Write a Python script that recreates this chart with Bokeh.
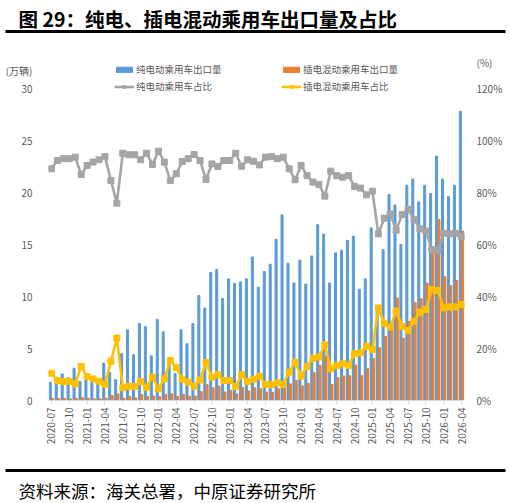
import math
from bokeh.plotting import figure
from bokeh.layouts import column
from bokeh.models import (ColumnDataSource, Range1d, LinearAxis, FixedTicker, Label,
                          BoxAnnotation, Legend, LegendItem)
from bokeh.embed import file_html
from bokeh.resources import INLINE

# ---------------- data ----------------
tick_labels = ["2020-07", "2020-10", "2021-01", "2021-04", "2021-07", "2021-10",
               "2022-01", "2022-04", "2022-07", "2022-10", "2023-01", "2023-04",
               "2023-07", "2023-10", "2024-01", "2024-04", "2024-07", "2024-10",
               "2025-01", "2025-04", "2025-07", "2025-10", "2026-01", "2026-04"]

bev_export = [1.76, 2.24, 2.56, 2.18, 3.1, 1.83, 2.1, 1.9, 2.0, 3.6, 2.7, 2.0,
              4.5, 6.8, 4.4, 7.4, 7.1, 4.3, 7.8, 6.6, 3.6, 2.6, 6.8, 5.45,
              7.4, 10.1, 8.9, 12.3, 12.6, 9.8, 11.7, 11.25, 11.4, 11.7, 13.8, 10.9,
              12.4, 13.1, 15.5, 17.85, 13.2, 11.3, 13.5, 11.2, 13.9, 16.9, 16.0, 11.3,
              14.2, 14.45, 15.4, 15.8, 10.7, 11.7, 16.6, 9.0, 14.5, 19.8, 18.8, 15.0,
              20.7, 21.3, 19.1, 20.7, 19.9, 23.5, 21.3, 19.6, 20.7, 27.8]

phev_export = [0.21, 0.19, 0.2, 0.16, 0.21, 0.28, 0.21, 0.17, 0.16, 0.24, 0.49, 0.63,
               0.23, 0.4, 0.25, 0.58, 0.38, 0.43, 0.37, 0.6, 0.65, 0.38, 0.61, 0.42,
               0.43, 0.86, 1.52, 1.22, 1.39, 0.82, 0.98, 0.64, 1.25, 0.92, 1.23, 1.13,
               0.82, 0.8, 1.13, 1.18, 1.61, 1.94, 1.4, 1.65, 2.67, 3.38, 4.3, 1.55,
               2.2, 2.36, 2.38, 3.42, 2.4, 3.06, 4.05, 5.07, 6.15, 7.3, 9.85, 6.0,
               7.6, 9.4, 9.8, 11.3, 14.8, 17.4, 11.9, 11.05, 11.55, 16.3]

bev_share = [89.1, 92.3, 93.0, 93.0, 93.6, 86.9, 90.4, 91.7, 92.6, 93.8, 84.6, 75.9,
             95.1, 94.5, 94.5, 92.6, 95.1, 90.8, 95.9, 91.7, 84.6, 87.2, 91.9, 93.0,
             94.6, 92.3, 85.0, 91.0, 90.0, 92.3, 92.3, 95.1, 90.1, 92.6, 92.0, 90.6,
             93.6, 93.8, 93.0, 93.6, 89.1, 84.9, 90.4, 86.5, 84.0, 83.1, 78.6, 88.2,
             86.5, 85.9, 86.5, 82.3, 81.7, 79.1, 80.5, 64.1, 70.1, 71.8, 65.5, 71.5,
             73.6, 69.7, 66.0, 65.2, 58.0, 57.7, 64.3, 64.1, 64.3, 63.0]

phev_share = [10.5, 7.7, 7.3, 7.3, 6.4, 13.1, 9.2, 8.3, 7.4, 6.2, 15.1, 24.0,
              4.9, 5.5, 5.4, 7.3, 5.1, 9.0, 4.5, 8.3, 15.4, 12.6, 8.2, 7.1,
              5.5, 7.9, 14.6, 9.0, 9.9, 7.7, 7.7, 5.4, 9.9, 7.3, 8.2, 9.3,
              6.2, 6.0, 6.8, 6.2, 10.9, 14.7, 9.4, 13.1, 16.2, 16.7, 21.4, 12.2,
              13.5, 14.1, 13.5, 18.0, 18.3, 20.9, 19.6, 35.6, 29.7, 28.2, 34.4, 28.5,
              26.9, 30.5, 34.0, 35.0, 42.6, 42.3, 35.6, 36.0, 36.0, 36.9]

left_ticks = [0, 5, 10, 15, 20, 25, 30]
right_ticks = [0, 20, 40, 60, 80, 100, 120]
left_unit = "(万辆)"
right_unit = "(%)"
title_text = "图 29：纯电、插电混动乘用车出口量及占比"
source_text = "资料来源：海关总署，中原证券研究所"

FONT = "Noto Sans CJK SC"
GREY_TXT = "#595959"
W = 510


def blank_fig(h):
    f = figure(width=W, height=h, output_backend="svg", toolbar_location=None,
               x_range=Range1d(0, W), y_range=Range1d(h, 0),
               x_axis_location=None, y_axis_location=None,
               min_border_left=0, min_border_right=0, min_border_top=0,
               min_border_bottom=0, frame_align=False)
    f.outline_line_color = None
    f.grid.visible = False
    return f


# ---------------- header ----------------
TOP_H = 40
top = blank_fig(TOP_H)
top.add_layout(Label(x=18, y=18, text=title_text, text_font=FONT, text_font_size="19.5px",
                     text_font_style="bold", text_color="black", text_baseline="middle"))
top.add_layout(BoxAnnotation(left=5, right=505, top=29.5, bottom=32.5,
                             fill_color="black", fill_alpha=1, line_color=None))

# ---------------- main chart ----------------
MAIN_H = 425          # page y 40 .. 465
FRAME_TOP, FRAME_BOT = 55, 400
FRAME_L, FRAME_R = 48, 464
PX_PER_UNIT = 10.4
Y_TOP = (FRAME_BOT - FRAME_TOP) / PX_PER_UNIT

n = len(bev_export)
idx = list(range(n))
src = ColumnDataSource(dict(
    xb=[i - 0.2 for i in idx], xo=[i + 0.2 for i in idx], x=idx,
    bev=bev_export, phev=phev_export, bs=bev_share, ps=phev_share))

p = figure(width=W, height=MAIN_H, output_backend="svg", toolbar_location=None,
           x_range=Range1d(-0.5, n - 0.5), y_range=Range1d(0, Y_TOP),
           min_border_left=FRAME_L, min_border_right=W - FRAME_R,
           min_border_top=FRAME_TOP - TOP_H, min_border_bottom=TOP_H + MAIN_H - FRAME_BOT,
           frame_align=False)
p.extra_y_ranges = {"pct": Range1d(0, Y_TOP * 4)}
p.outline_line_color = None
p.xgrid.visible = False
p.ygrid.visible = False

b1 = p.vbar(x="xb", top="bev", width=0.34, source=src, color="#5B9BD5")
b2 = p.vbar(x="xo", top="phev", width=0.34, source=src, color="#ED7D31")
l1 = p.line(x="x", y="bs", source=src, y_range_name="pct", color="#A5A5A5", line_width=2.6)
s1 = p.scatter(x="x", y="bs", source=src, y_range_name="pct", marker="square",
               size=6, color="#A5A5A5")
l2 = p.line(x="x", y="ps", source=src, y_range_name="pct", color="#FFC000", line_width=2.6)
s2 = p.scatter(x="x", y="ps", source=src, y_range_name="pct", marker="square",
               size=6, color="#FFC000")

xa = p.xaxis[0]
xa.ticker = FixedTicker(ticks=list(range(0, n, 3)))
xa.major_label_overrides = {i * 3: t for i, t in enumerate(tick_labels)}
xa.major_label_orientation = math.pi / 2
xa.major_label_text_font = FONT
xa.major_label_text_font_size = "10px"
xa.major_label_text_color = GREY_TXT
xa.axis_line_color = "#D9D9D9"
xa.major_tick_line_color = "#D9D9D9"
xa.major_tick_out = 4
xa.major_tick_in = 0
xa.minor_tick_line_color = None
xa.major_label_standoff = 3

# unit captions sit as extra labelled ticks above the top value
LEFT_UNIT_POS = 31.75
RIGHT_UNIT_POS = 130.0

ya = p.yaxis[0]
ya.ticker = FixedTicker(ticks=left_ticks + [LEFT_UNIT_POS])
ya.major_label_overrides = {LEFT_UNIT_POS: left_unit}
ya.axis_line_color = None
ya.major_tick_line_color = None
ya.minor_tick_line_color = None
ya.major_label_text_font = FONT
ya.major_label_text_font_size = "10px"
ya.major_label_text_color = GREY_TXT
ya.major_label_standoff = 10

ra = LinearAxis(y_range_name="pct", ticker=FixedTicker(ticks=right_ticks + [RIGHT_UNIT_POS]))
ra.major_label_overrides = {t: f"{t}%" for t in right_ticks}
ra.major_label_overrides[RIGHT_UNIT_POS] = right_unit
ra.axis_line_color = None
ra.major_tick_line_color = None
ra.minor_tick_line_color = None
ra.major_label_text_font = FONT
ra.major_label_text_font_size = "10px"
ra.major_label_text_color = GREY_TXT
ra.major_label_standoff = 6
p.add_layout(ra, "right")


def make_legend(items, px, py):
    lg = Legend(items=items, location=(px - FRAME_L, FRAME_BOT - py), orientation="vertical",
                border_line_color=None, background_fill_alpha=0, padding=0, margin=0,
                spacing=3, glyph_height=7, glyph_width=20, label_height=12,
                label_standoff=2, label_text_font=FONT, label_text_font_size="9.5px",
                label_text_color=GREY_TXT)
    p.add_layout(lg, "center")


make_legend([LegendItem(label="纯电动乘用车出口量", renderers=[b1]),
             LegendItem(label="纯电动乘用车占比", renderers=[l1, s1])], 114, 93)
make_legend([LegendItem(label="插电混动乘用车出口量", renderers=[b2]),
             LegendItem(label="插电混动乘用车占比", renderers=[l2, s2])], 281, 93)

# ---------------- footer ----------------
BOT_H = 503 - TOP_H - MAIN_H
bot = blank_fig(BOT_H)
bot.add_layout(BoxAnnotation(left=5, right=505, top=3.5, bottom=6.5,
                             fill_color="black", fill_alpha=1, line_color=None))
bot.add_layout(Label(x=18, y=25, text=source_text, text_font=FONT, text_font_size="17.5px",
                     text_color="black", text_baseline="middle"))

layout = column(top, p, bot, spacing=0)
open("out.html", "w").write(file_html(layout, INLINE))
